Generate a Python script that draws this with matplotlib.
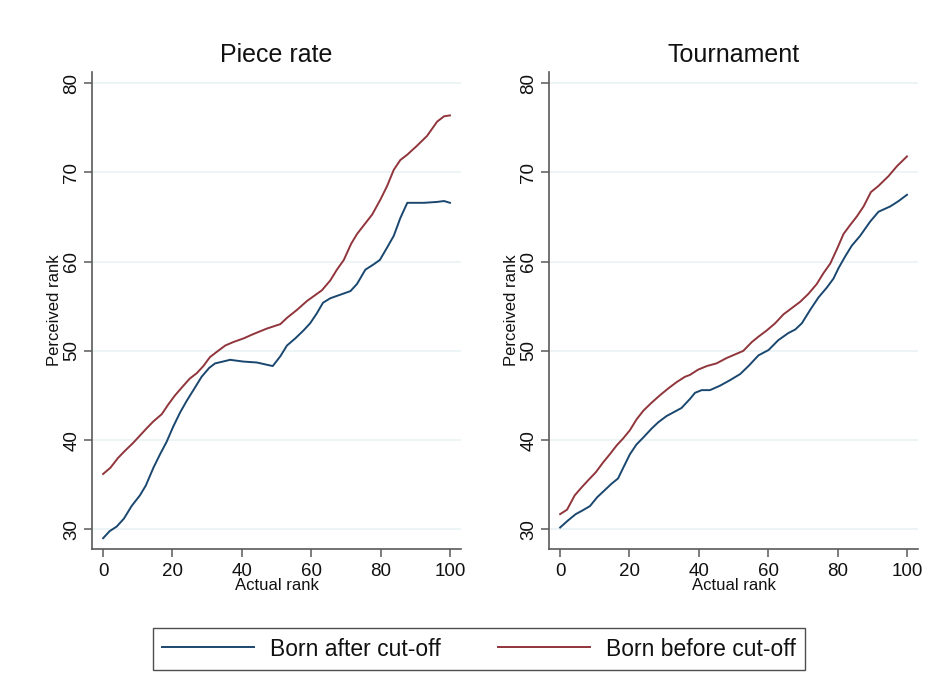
import matplotlib

matplotlib.use("Agg")
import matplotlib.pyplot as plt

plt.rcParams["font.family"] = ["Liberation Sans", "DejaVu Sans"]

# Perceived vs actual rank, by treatment and birth timing
PR_AFTER_X = [0, 1.9, 3.9, 6, 8.2, 10.6, 12.3, 14.5, 16.4, 18.3, 20.2, 22.2, 24.1,
              26.5, 28.4, 30.6, 32.3, 34.5, 36.6, 40.5, 44.3, 48.9, 51.1, 53,
              55.4, 57.8, 59.7, 61.6, 63.4, 65.5, 68.4, 71.3, 73.2, 75.6, 78,
              79.8, 81.9, 83.8, 85.7, 87.7, 92.5, 96.3, 98.3, 100]
PR_AFTER_Y = [29.0, 29.8, 30.3, 31.2, 32.6, 33.8, 34.9, 36.9, 38.4, 39.8, 41.5,
              43.1, 44.4, 45.9, 47.1, 48.1, 48.6, 48.8, 49.0, 48.8, 48.7, 48.3,
              49.4, 50.6, 51.4, 52.3, 53.1, 54.2, 55.4, 55.9, 56.3, 56.7, 57.5,
              59.1, 59.7, 60.2, 61.6, 62.9, 64.9, 66.6, 66.6, 66.7, 66.8, 66.6]

PR_BEFORE_X = [0, 2.1, 4.3, 6.3, 8.7, 10.6, 12.5, 14.5, 16.9, 18.8, 20.7, 22.7,
               25.0, 27.0, 28.9, 30.8, 32.8, 35.2, 37.6, 40.5, 43.4, 47.2, 51.1,
               53, 55.9, 58.8, 63.1, 65.5, 67.4, 69.4, 71.5, 73.2, 75.6, 77.6,
               80, 81.9, 83.8, 85.7, 87.7, 90.5, 93.4, 96.3, 98.3, 100]
PR_BEFORE_Y = [36.2, 36.9, 38.0, 38.8, 39.7, 40.5, 41.3, 42.1, 42.9, 44.0, 45.0,
               45.9, 46.9, 47.5, 48.3, 49.3, 49.9, 50.6, 51.0, 51.4, 51.9, 52.5,
               53.0, 53.7, 54.6, 55.6, 56.8, 57.9, 59.1, 60.2, 62.0, 63.1, 64.3,
               65.3, 67.0, 68.5, 70.3, 71.4, 72.0, 73.0, 74.1, 75.7, 76.3, 76.4]

TN_AFTER_X = [0, 2.3, 4.5, 6.4, 8.6, 10.7, 12.9, 14.8, 16.7, 18.2, 20.1, 22.0,
              24.0, 26.4, 28.3, 30.7, 33.1, 35.0, 37.4, 38.9, 40.8, 43.2, 46.1,
              48.9, 51.9, 54.3, 57.2, 60.1, 62.9, 65.8, 67.8, 69.7, 72.1, 74.5,
              76.9, 78.8, 80.3, 82.2, 84.1, 86.5, 89.4, 91.8, 95.2, 97.6, 100]
TN_AFTER_Y = [30.2, 31.0, 31.7, 32.1, 32.6, 33.6, 34.4, 35.1, 35.7, 36.9, 38.4,
              39.5, 40.3, 41.3, 42.0, 42.7, 43.2, 43.6, 44.6, 45.3, 45.6, 45.6,
              46.1, 46.7, 47.4, 48.3, 49.5, 50.1, 51.2, 52.0, 52.4, 53.1, 54.6,
              56.0, 57.1, 58.1, 59.3, 60.6, 61.8, 62.9, 64.5, 65.6, 66.2, 66.8,
              67.5]

TN_BEFORE_X = [0, 2, 4.2, 6.2, 8.1, 10.3, 12.4, 14.3, 16.3, 18.2, 20.1, 22.0,
               24.0, 26.4, 28.7, 31.2, 33.6, 36.0, 37.4, 39.8, 42.3, 45.1, 48.0,
               50.4, 52.8, 55.3, 57.2, 59.6, 62.0, 64.4, 66.8, 69.2, 71.6, 74.0,
               75.9, 77.9, 79.8, 81.7, 83.6, 85.6, 87.5, 89.6, 91.8, 94.7, 97.1,
               100]
TN_BEFORE_Y = [31.7, 32.2, 33.8, 34.7, 35.5, 36.4, 37.5, 38.4, 39.4, 40.2, 41.1,
               42.3, 43.3, 44.2, 45.0, 45.8, 46.5, 47.1, 47.3, 47.9, 48.3, 48.6,
               49.2, 49.6, 50.0, 51.0, 51.6, 52.3, 53.1, 54.1, 54.8, 55.5, 56.4,
               57.5, 58.7, 59.8, 61.4, 63.1, 64.1, 65.1, 66.2, 67.8, 68.5, 69.6,
               70.7, 71.8]

TITLES = ["Piece rate", "Tournament"]
SERIES_LABELS = ["Born after cut-off", "Born before cut-off"]
X_TICKS = [0, 20, 40, 60, 80, 100]
Y_TICKS = [30, 40, 50, 60, 70, 80]

BLUE = "#1a476f"
RED = "#90353b"
AXIS_GREY = "#5a5a5a"
TEXT = "#111111"

fig = plt.figure(figsize=(9.39, 6.87), dpi=100)
ax_pr = fig.add_axes([0.098, 0.201, 0.393, 0.694])
ax_tn = fig.add_axes([0.5847, 0.201, 0.393, 0.694])

panels = [
    (ax_pr, TITLES[0], (PR_AFTER_X, PR_AFTER_Y), (PR_BEFORE_X, PR_BEFORE_Y)),
    (ax_tn, TITLES[1], (TN_AFTER_X, TN_AFTER_Y), (TN_BEFORE_X, TN_BEFORE_Y)),
]

handles = []
for ax, title, after, before in panels:
    h1, = ax.plot(*after, color=BLUE, lw=1.4, label=SERIES_LABELS[0])
    h2, = ax.plot(*before, color=RED, lw=1.4, label=SERIES_LABELS[1])
    handles = [h1, h2]

    ax.set_xlim(-3.2, 103.2)
    ax.set_ylim(27.8, 81.25)
    ax.set_xticks(X_TICKS)
    ax.set_yticks(Y_TICKS)
    ax.set_yticklabels([str(t) for t in Y_TICKS], rotation=90, va="center")
    ax.tick_params(labelsize=13.5, colors=AXIS_GREY, labelcolor=TEXT,
                   length=5.5, width=1.1, pad=4.5)
    ax.tick_params(axis="y", pad=3)
    ax.grid(axis="y", color="#eaf2f3", lw=1.2)
    ax.set_axisbelow(True)
    for side in ("top", "right"):
        ax.spines[side].set_visible(False)
    for side in ("left", "bottom"):
        ax.spines[side].set_color(AXIS_GREY)
        ax.spines[side].set_linewidth(1.2)

    ax.set_title(title, fontsize=18, color=TEXT, pad=7)
    ax.set_xlabel("Actual rank", fontsize=12, color=TEXT, labelpad=-1)
    ax.set_ylabel("Perceived rank", fontsize=12, color=TEXT, labelpad=1)

leg = fig.legend(handles, SERIES_LABELS, loc="center",
                 bbox_to_anchor=(0.510, 0.0553), ncol=2, fontsize=16.5,
                 frameon=True, fancybox=False, edgecolor="#222222",
                 handlelength=4.0, handletextpad=0.7, columnspacing=2.5,
                 borderpad=0.4, borderaxespad=0)
leg.get_frame().set_linewidth(1.0)
for text in leg.get_texts():
    text.set_color(TEXT)

fig.savefig("out.png", dpi=100, facecolor="white")
